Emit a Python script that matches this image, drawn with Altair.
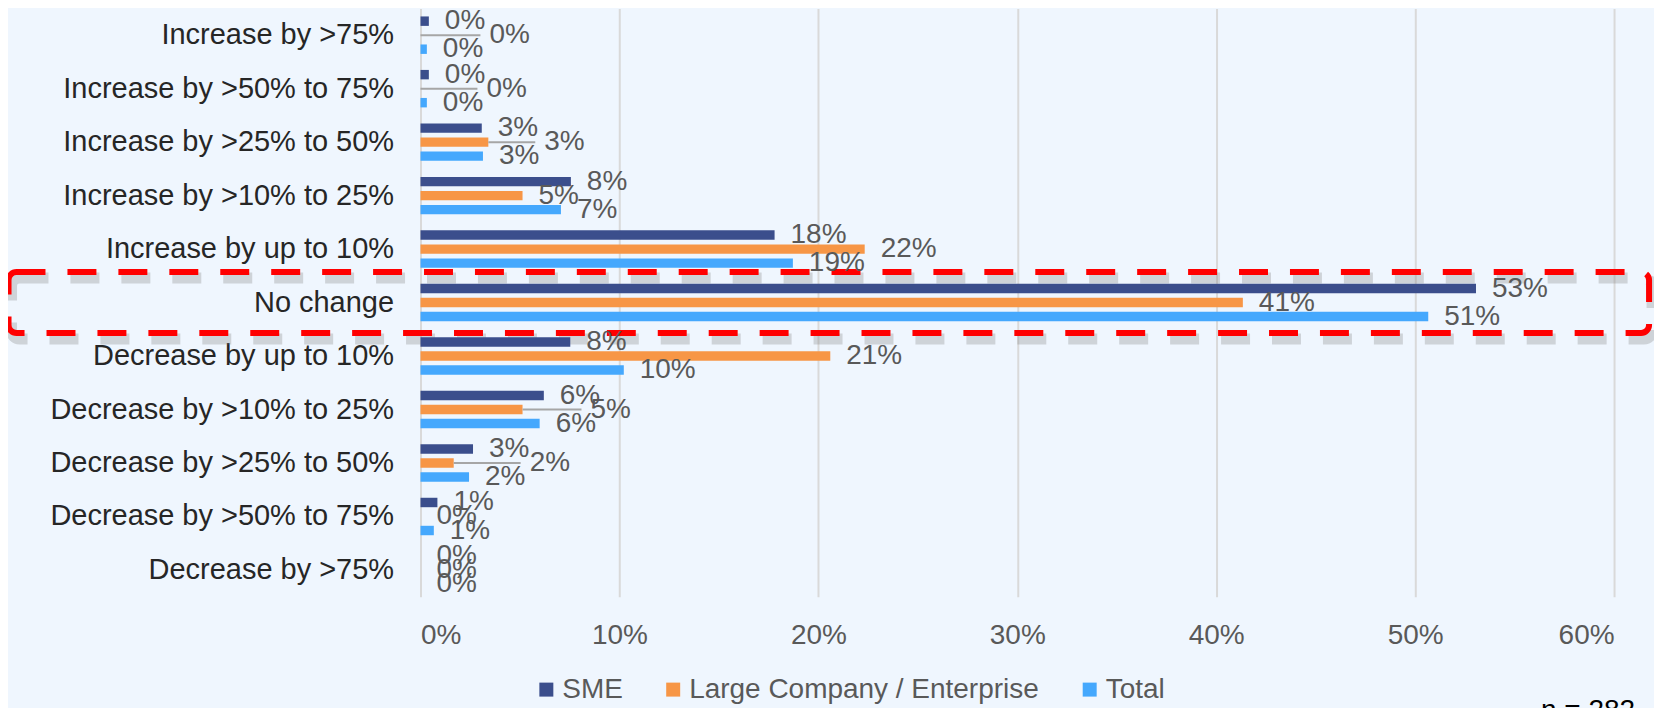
import altair as alt
import pandas as pd

categories = [
    "Increase by >75%",
    "Increase by >50% to 75%",
    "Increase by >25% to 50%",
    "Increase by >10% to 25%",
    "Increase by up to 10%",
    "No change",
    "Decrease by up to 10%",
    "Decrease by >10% to 25%",
    "Decrease by >25% to 50%",
    "Decrease by >50% to 75%",
    "Decrease by >75%",
]
series = ["SME", "Large Company / Enterprise", "Total"]
sme = [0.0042, 0.0042, 0.0308, 0.0756, 0.1780, 0.5306, 0.0753, 0.0620, 0.0264, 0.0085, 0.0]
large = [0.0, 0.0, 0.0341, 0.0513, 0.2233, 0.4134, 0.2060, 0.0513, 0.0167, 0.0, 0.0]
total = [0.0032, 0.0032, 0.0314, 0.0706, 0.1872, 0.5066, 0.1022, 0.0599, 0.0244, 0.0067, 0.0]
x_ticks = [0.0, 0.1, 0.2, 0.3, 0.4, 0.5, 0.6]
highlight = ["No change"]
highlight_span = [-0.2071, 0.6176]
footnote = ["n = 282"]

colors = ["#3B4E8C", "#F79646", "#45A8FD"]
GRAY = "#595959"
FONT = "Liberation Sans"

# Excel-style moved labels (with leader lines): extra pixel shift
label_nudges = {
    ("Increase by >75%", "Large Company / Enterprise"): 53,
    ("Increase by >50% to 75%", "Large Company / Enterprise"): 50,
    ("Increase by >25% to 50%", "Large Company / Enterprise"): 40,
    ("Decrease by >10% to 25%", "Large Company / Enterprise"): 52,
    ("Decrease by >25% to 50%", "Large Company / Enterprise"): 60,
}

rows = []
for s, vals in zip(series, [sme, large, total]):
    for c, v in zip(categories, vals):
        rows.append({"category": c, "series": s, "value": v,
                     "nudge": label_nudges.get((c, s), 0)})
df = pd.DataFrame(rows)

box_df = pd.DataFrame({"category": highlight, "x0": [highlight_span[0]], "x1": [highlight_span[1]]})
foot_df = pd.DataFrame({"t": footnote})

W, H = 1195, 589

x_scale = alt.Scale(domain=[0, 0.6], nice=False, zero=True)
x_axis = alt.Axis(values=x_ticks, format=".0%", title=None, grid=True, gridColor="#D9D9D9",
                  gridWidth=2, domain=False, ticks=False, labelFontSize=28, labelColor=GRAY,
                  labelFont=FONT, labelPadding=25)
y_enc = alt.Y("category:N", sort=categories,
              scale=alt.Scale(paddingInner=0.214, paddingOuter=0.107),
              axis=alt.Axis(title=None, labelFontSize=29, labelColor="#262626", labelFont=FONT,
                            labelPadding=27, ticks=False, domain=False, labelLimit=0))
yoff_enc = alt.YOffset("series:N", sort=series,
                       scale=alt.Scale(paddingInner=0.326, paddingOuter=0.163))

base = alt.Chart(df)

bars = base.mark_bar().encode(
    x=alt.X("value:Q", scale=x_scale, axis=x_axis),
    y=y_enc,
    yOffset=yoff_enc,
    color=alt.Color("series:N", sort=series,
                    scale=alt.Scale(domain=series, range=colors),
                    legend=alt.Legend(orient="none", legendX=112, legendY=668,
                                      direction="horizontal", title=None,
                                      symbolType="square", symbolSize=196,
                                      symbolStrokeWidth=0, labelFontSize=28,
                                      labelColor=GRAY, labelFont=FONT, labelLimit=0,
                                      columnPadding=36, labelOffset=2)),
)

layers = []
# shadow + red dashed highlight box
shadow = alt.Chart(box_df).mark_bar(size=61, fillOpacity=0, stroke="#808080", strokeOpacity=0.3,
                                    strokeWidth=11, strokeDash=[29, 22], cornerRadius=8,
                                    xOffset=3, x2Offset=3, yOffset=6).encode(
    x=alt.X("x0:Q", scale=x_scale, axis=x_axis), x2="x1:Q", y=y_enc)
box = alt.Chart(box_df).mark_bar(size=61, fillOpacity=0, stroke="#FF0000",
                                 strokeWidth=6, strokeDash=[29, 22], cornerRadius=8).encode(
    x=alt.X("x0:Q", scale=x_scale, axis=x_axis), x2="x1:Q", y=y_enc)

layers += [bars]

text_kw = dict(align="left", baseline="middle", fontSize=28, color=GRAY, font=FONT)
labels = base.transform_filter("datum.nudge == 0").mark_text(dx=16, **text_kw).encode(
    x=alt.X("value:Q", scale=x_scale, axis=x_axis), y=y_enc, yOffset=yoff_enc,
    text=alt.Text("value:Q", format=".0%"))
layers.append(labels)

for n in sorted(set(label_nudges.values())):
    sub = base.transform_filter(f"datum.nudge == {n}")
    layers.append(sub.mark_rule(color="#A6A6A6", strokeWidth=2, x2Offset=n + 7).encode(
        x=alt.X("value:Q", scale=x_scale, axis=x_axis), x2="value:Q", y=y_enc, yOffset=yoff_enc))
    layers.append(sub.mark_text(dx=16 + n, **text_kw).encode(
        x=alt.X("value:Q", scale=x_scale, axis=x_axis), y=y_enc, yOffset=yoff_enc,
        text=alt.Text("value:Q", format=".0%")))

foot = alt.Chart(foot_df).mark_text(align="right", baseline="top", fontSize=28, color="#000000",
                                    font=FONT, dx=21).encode(
    x=alt.datum(0.6, scale=x_scale), y=alt.value(689), text="t:N")

chart = alt.layer(shadow, box, *layers, foot).properties(
    width=W, height=H,
    autosize=alt.AutoSizeParams(type="none"),
    padding={"left": 413, "top": 0, "right": 40, "bottom": 130},
    background="#EFF6FE",
).configure_view(stroke=None)

chart.save("out.html", embed_options={"renderer": "svg", "actions": False})
